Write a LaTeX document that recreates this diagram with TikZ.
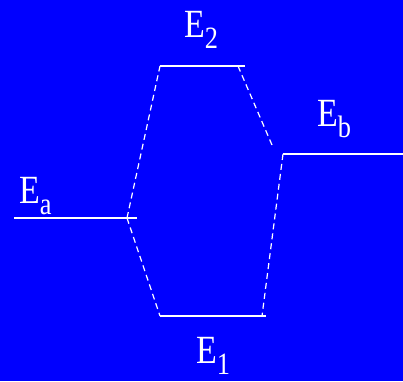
\documentclass[tikz,border=0pt]{standalone}
\usepackage{fontspec}
\setmainfont{Liberation Serif}
\usetikzlibrary{positioning}

% label with a big subscript
\newcommand{\elab}[2]{\scalebox{0.85}[1]{\fontsize{40}{40}\selectfont E\raisebox{-11pt}{\fontsize{31}{31}\selectfont #2}}}

\begin{document}
\begin{tikzpicture}[
    x=1pt, y=-1pt,
    level/.style={draw=white, line width=1.6pt},
    link/.style={draw=white, line width=1.2pt, dash pattern=on 6pt off 4pt},
    elabel/.style={text=white, inner sep=0pt, anchor=base west},
]

% ---- Background ----
\fill[blue] (0,0) rectangle (403,381);
\useasboundingbox (0,0) rectangle (403,381);

% ---- Level ends ----
\coordinate (a-l) at (14,218);
\coordinate (a-r) at (137,218);
\coordinate (a-k) at (127,218);
\coordinate (two-l) at (160,66);
\coordinate (two-r) at (245,66);
\coordinate (two-k) at (238,66);
\coordinate (b-l) at (283,154);
\coordinate (b-r) at (403,154);
\coordinate (one-l) at (160,316);
\coordinate (one-r) at (266,316);
\coordinate (one-k) at (262,316);
\coordinate (two-end) at (272,145);

% ---- Levels ----
\draw[level] (a-l) -- (a-r);
\draw[level] (two-l) -- (two-r);
\draw[level] (b-l) -- (b-r);
\draw[level] (one-l) -- (one-r);

% ---- Dashed links ----
\draw[link] (a-k) -- (two-l);
\draw[link] (a-k) -- (one-l);
\draw[link] (two-k) -- (two-end);
\draw[link] (b-l) -- (one-k);

% ---- Labels ----
\node[elabel] (ea) at (19,203) {\elab{E}{a}};
\node[elabel] (e2) at (184,37) {\elab{E}{2}};
\node[elabel] (eb) at (317,126) {\elab{E}{b}};
\node[elabel] (e1) at (196,363) {\elab{E}{1}};

\end{tikzpicture}
\end{document}
